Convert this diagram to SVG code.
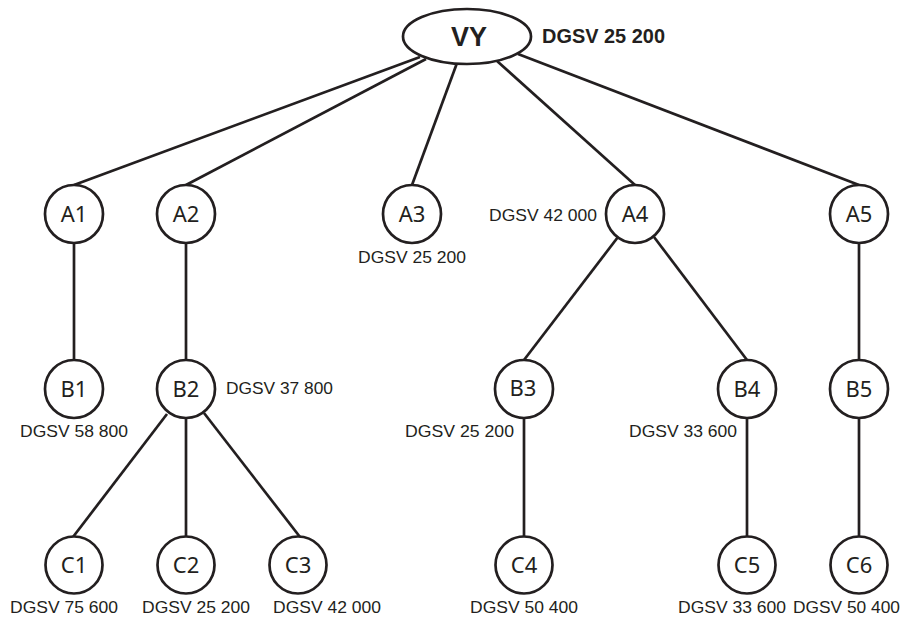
<svg xmlns="http://www.w3.org/2000/svg" width="913" height="617" viewBox="0 0 913 617">
<style>
.n{fill:#fff;stroke:#231f20;stroke-width:2.7}
.l{fill:none;stroke:#231f20;stroke-width:2.7}
.t{font-family:"Noto Sans","Liberation Sans",sans-serif;font-size:22px;fill:#231f20;text-anchor:middle}
.d{font-family:"Liberation Sans",Arial,sans-serif;font-size:17px;fill:#231f20}
.b{font-family:"Liberation Sans",Arial,sans-serif;font-weight:bold;fill:#231f20}
</style>
<rect width="913" height="617" fill="#fff"/>
<g id="connectors" class="l">
<line x1="420" y1="57" x2="74" y2="185"/>
<line x1="426" y1="59" x2="186" y2="185"/>
<line x1="457" y1="63" x2="412" y2="185"/>
<line x1="497" y1="61" x2="635" y2="185"/>
<line x1="518" y1="54" x2="859" y2="185"/>
<line x1="74" y1="243" x2="74" y2="360"/>
<line x1="186" y1="243" x2="186" y2="360"/>
<line x1="618" y1="237" x2="524" y2="360"/>
<line x1="654" y1="237" x2="747" y2="360"/>
<line x1="859" y1="243" x2="859" y2="360"/>
<line x1="167" y1="414" x2="73" y2="537"/>
<line x1="186" y1="418" x2="186" y2="537"/>
<line x1="204" y1="413" x2="300" y2="537"/>
<line x1="524" y1="418" x2="524" y2="537"/>
<line x1="747" y1="418" x2="747" y2="537"/>
<line x1="859" y1="418" x2="859" y2="537"/>
</g>
<g id="VY"><ellipse class="n" cx="467" cy="36.5" rx="64" ry="27.5"/><text class="b" x="469" y="46" font-size="27" text-anchor="middle">VY</text><text class="b" x="542" y="43" font-size="20" textLength="123" lengthAdjust="spacingAndGlyphs">DGSV 25 200</text></g>
<g id="A1"><circle class="n" cx="74" cy="214" r="29"/><text class="t" x="74" y="222">A1</text></g>
<g id="A2"><circle class="n" cx="186" cy="214" r="29"/><text class="t" x="186" y="222">A2</text></g>
<g id="A3"><circle class="n" cx="412" cy="214" r="29"/><text class="t" x="412" y="222">A3</text><text class="d" x="358" y="263" textLength="108" lengthAdjust="spacingAndGlyphs">DGSV 25 200</text></g>
<g id="A4"><circle class="n" cx="635" cy="214" r="29"/><text class="t" x="635" y="222">A4</text><text class="d" x="489" y="221" textLength="108" lengthAdjust="spacingAndGlyphs">DGSV 42 000</text></g>
<g id="A5"><circle class="n" cx="859" cy="214" r="29"/><text class="t" x="859" y="222">A5</text></g>
<g id="B1"><circle class="n" cx="74" cy="389" r="29"/><text class="t" x="74" y="397">B1</text><text class="d" x="20" y="437" textLength="108" lengthAdjust="spacingAndGlyphs">DGSV 58 800</text></g>
<g id="B2"><circle class="n" cx="186" cy="389" r="29"/><text class="t" x="186" y="397">B2</text><text class="d" x="226" y="394" textLength="107" lengthAdjust="spacingAndGlyphs">DGSV 37 800</text></g>
<g id="B3"><circle class="n" cx="524" cy="389" r="29"/><text class="t" x="523" y="396" font-size="18">B3</text><text class="d" x="405" y="437" textLength="109" lengthAdjust="spacingAndGlyphs">DGSV 25 200</text></g>
<g id="B4"><circle class="n" cx="747" cy="389" r="29"/><text class="t" x="747" y="397">B4</text><text class="d" x="629" y="437" textLength="108" lengthAdjust="spacingAndGlyphs">DGSV 33 600</text></g>
<g id="B5"><circle class="n" cx="859" cy="389" r="29"/><text class="t" x="859" y="397">B5</text></g>
<g id="C1"><circle class="n" cx="74" cy="565" r="28.5"/><text class="t" x="74" y="573">C1</text><text class="d" x="10" y="613" textLength="108" lengthAdjust="spacingAndGlyphs">DGSV 75 600</text></g>
<g id="C2"><circle class="n" cx="186" cy="565" r="28.5"/><text class="t" x="186" y="573">C2</text><text class="d" x="142" y="613" textLength="108" lengthAdjust="spacingAndGlyphs">DGSV 25 200</text></g>
<g id="C3"><circle class="n" cx="298" cy="565" r="28.5"/><text class="t" x="298" y="573">C3</text><text class="d" x="273" y="613" textLength="108" lengthAdjust="spacingAndGlyphs">DGSV 42 000</text></g>
<g id="C4"><circle class="n" cx="524" cy="565" r="28.5"/><text class="t" x="524" y="573">C4</text><text class="d" x="470" y="613" textLength="108" lengthAdjust="spacingAndGlyphs">DGSV 50 400</text></g>
<g id="C5"><circle class="n" cx="747" cy="565" r="28.5"/><text class="t" x="747" y="573">C5</text><text class="d" x="678" y="613" textLength="108" lengthAdjust="spacingAndGlyphs">DGSV 33 600</text></g>
<g id="C6"><circle class="n" cx="859" cy="565" r="28.5"/><text class="t" x="859" y="573">C6</text><text class="d" x="793" y="613" textLength="107" lengthAdjust="spacingAndGlyphs">DGSV 50 400</text></g>
</svg>
